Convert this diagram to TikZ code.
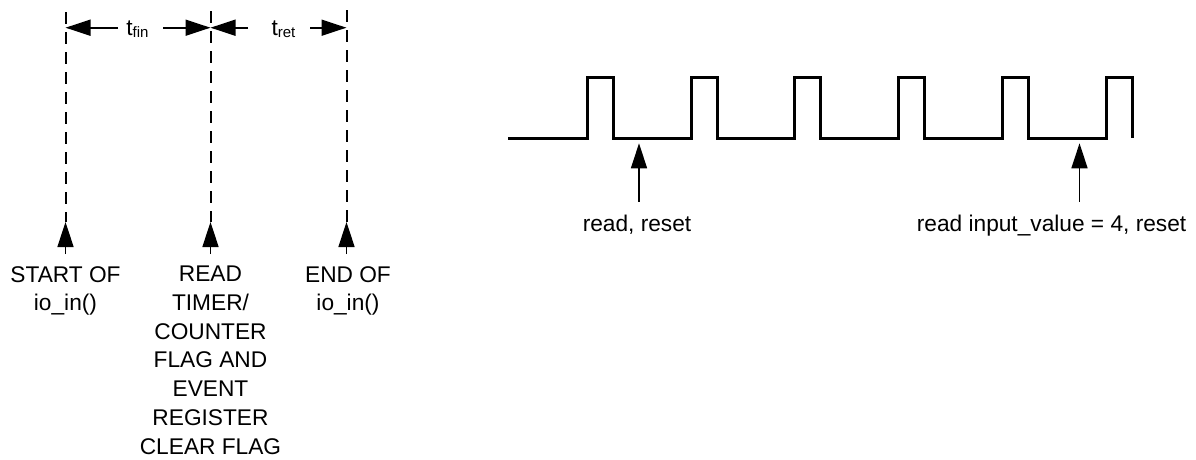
\documentclass[tikz,border=0pt]{standalone}
\usepackage{fontspec}
\setmainfont{Liberation Sans}
\usetikzlibrary{arrows.meta}
\newcommand{\tsub}[1]{t\raisebox{-2.5pt}{\fontsize{15}{15}\selectfont #1}}
\begin{document}
\begin{tikzpicture}[x=1pt,y=-1pt,
  guide/.style={line width=2pt,dash pattern=on 12pt off 8pt},
  dimarrow/.style={line width=1.6pt,-{Triangle[length=25pt,width=16pt]}},
  evarrow/.style={line width=1.6pt,-{Triangle[length=25pt,width=16pt]}},
  wave/.style={line width=3pt,line join=miter,line cap=butt},
  lbl/.style={font=\fontsize{22.7}{28.7}\selectfont,inner sep=0pt,align=center},
  dimlbl/.style={font=\fontsize{22.7}{27}\selectfont,inner sep=0pt}]
\useasboundingbox (0,0) rectangle (1196,459);

% guide lines
\coordinate (g1t) at (65.5,12);   \coordinate (g1b) at (65.5,222);
\coordinate (g2t) at (210.5,11);  \coordinate (g2b) at (210.5,222);
\coordinate (g3t) at (346.5,10);  \coordinate (g3b) at (346.5,222);
\draw[guide] (g1t) -- (g1b);
\draw[guide] (g2t) -- (g2b);
\draw[guide] (g3t) -- (g3b);

% dimension labels
\node[dimlbl,anchor=base] (tfin) at (137.5,35) {\tsub{fin}};
\node[dimlbl,anchor=base] (tret) at (283.5,35) {\tsub{ret}};
\coordinate (d1a) at (118,27.7); \coordinate (d1tip) at (65.5,27.7);
\coordinate (d2a) at (163,27.7); \coordinate (d2tip) at (210.5,27.7);
\coordinate (d3a) at (248,27.7); \coordinate (d3tip) at (210.5,27.7);
\coordinate (d4a) at (310,27.7); \coordinate (d4tip) at (346.5,27.7);
\draw[dimarrow] (d1a) -- (d1tip);
\draw[dimarrow] (d2a) -- (d2tip);
\draw[dimarrow] (d3a) -- (d3tip);
\draw[dimarrow] (d4a) -- (d4tip);

% event arrows (left)
\coordinate (e1) at (65.5,254);  \coordinate (e2) at (210.5,254);  \coordinate (e3) at (346.5,254);
\draw[evarrow] (e1) -- (g1b);
\draw[evarrow] (e2) -- (g2b);
\draw[evarrow] (e3) -- (g3b);

% event labels (left)
\node[lbl,anchor=north] (start) at (65.5,266) {START OF\\io\_in()};
\node[lbl,anchor=north] (read) at (210.5,266) {READ\\TIMER/\\COUNTER\\FLAG AND\\EVENT\\REGISTER\\CLEAR FLAG};
\node[lbl,anchor=north] (end) at (348,266) {END OF\\io\_in()};

% waveform
\draw[wave] (508,138.3)
  foreach \i in {0,...,4} {
    -- ({587.3+103.75*\i},138.3) -- ({587.3+103.75*\i},77.7)
    -- ({613.3+103.75*\i},77.7) -- ({613.3+103.75*\i},138.3) }
  -- (1106,138.3) -- (1106,77.7) -- (1132,77.7) -- (1132,138.3);

% read arrows (right)
\coordinate (r1b) at (639,201.7); \coordinate (r1t) at (639,143.3);
\coordinate (r2b) at (1079.5,201.7); \coordinate (r2t) at (1079.5,143.3);
\draw[evarrow] (r1b) -- (r1t);
\draw[evarrow] (r2b) -- (r2t);
\node[lbl,anchor=base] (rr1) at (637,231) {read, reset};
\node[lbl,anchor=base east] (rr2) at (1186.5,231) {read input\_value = 4, reset};
\end{tikzpicture}
\end{document}
